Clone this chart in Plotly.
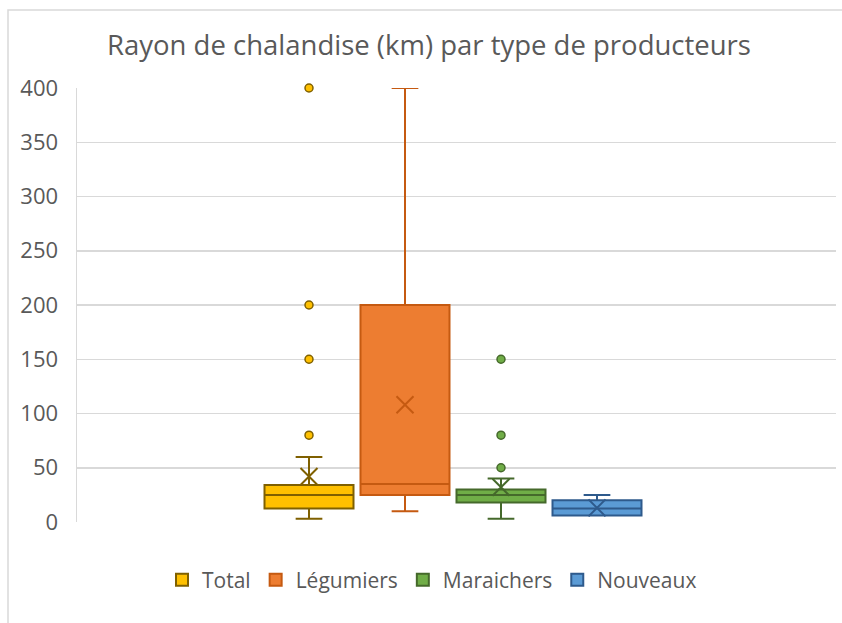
import plotly.graph_objects as go

# ---- data ----
series = ["Total", "Légumiers", "Maraichers", "Nouveaux"]
lower_fence = [3, 10, 3, 6]
q1_vals = [12.5, 25, 18, 6]
median_vals = [25, 35, 25, 12.5]
q3_vals = [34, 200, 30, 20]
upper_fence = [60, 400, 40, 25]
mean_vals = [42, 108, 32, 13]
outliers = [[80, 150, 200, 400], [], [50, 80, 150], []]

y_ticks = [0, 50, 100, 150, 200, 250, 300, 350, 400]

# ---- styles ----
fill_colors = ["#FFC000", "#ED7D31", "#70AD47", "#5B9BD5"]
line_colors = ["#7F6000", "#C55A11", "#45692B", "#2E5A8C"]

W, H = 842, 623
L, R, T, B = 77, 6, 88, 101
pw = W - L - R
ph = H - T - B

fig = go.Figure()

for i, name in enumerate(series):
    fig.add_trace(go.Box(
        name=name,
        x=[name],
        q1=[q1_vals[i]], median=[median_vals[i]], q3=[q3_vals[i]],
        lowerfence=[lower_fence[i]], upperfence=[upper_fence[i]],
        fillcolor=fill_colors[i],
        line=dict(color=line_colors[i], width=2),
        width=0.927,
        whiskerwidth=0.3,
        boxpoints=False,
        hoverinfo="skip",
    ))

for i, name in enumerate(series):
    # mean marker (X)
    fig.add_trace(go.Scatter(
        x=[name], y=[mean_vals[i]], mode="markers",
        marker=dict(symbol="x-thin", size=17,
                    line=dict(color=line_colors[i], width=2)),
        showlegend=False, hoverinfo="skip", cliponaxis=False,
    ))
    if outliers[i]:
        fig.add_trace(go.Scatter(
            x=[name] * len(outliers[i]), y=outliers[i], mode="markers",
            marker=dict(symbol="circle", size=8, color=fill_colors[i],
                        line=dict(color=line_colors[i], width=1.5)),
            showlegend=False, hoverinfo="skip", cliponaxis=False,
        ))

# category positions: first box centre at x=309px, spacing 96px
span = pw / 96.0
left = -(309 - L) / 96.0

def px_x(p):
    return (p - L) / pw

def px_y(p):
    return 1 - (p - T) / ph

fig.update_layout(
    width=W, height=H,
    margin=dict(l=L, r=R, t=T, b=B, autoexpand=False),
    paper_bgcolor="white", plot_bgcolor="white",
    boxmode="overlay",
    title=dict(text="Rayon de chalandise (km) par type de producteurs",
               x=px_x(429), xanchor="center", xref="paper",
               y=1 - 45 / H, yanchor="middle",
               font=dict(family="Open Sans", size=27.5, color="#595959")),
    xaxis=dict(type="category", categoryorder="array", categoryarray=series,
               range=[left, left + span], showticklabels=False,
               showgrid=False, zeroline=False, showline=False, ticks=""),
    yaxis=dict(range=[0, 400], tickvals=y_ticks, showgrid=True,
               gridcolor="#D9D9D9", gridwidth=1.5, zeroline=False,
               showline=True, linecolor="#D9D9D9", linewidth=1.5,
               ticks="", ticklabelstandoff=13,
               tickfont=dict(family="Open Sans", size=22, color="#595959")),
    legend=dict(orientation="h", x=px_x(432), xanchor="center",
                y=px_y(580), yanchor="middle", xref="paper", yref="paper",
                font=dict(family="Open Sans", size=21, color="#595959"),
                itemwidth=30, tracegroupgap=0),
    shapes=[dict(type="rect", xref="paper", yref="paper",
                 x0=px_x(8), x1=px_x(900), y0=px_y(10), y1=px_y(700),
                 line=dict(color="#D9D9D9", width=1.5), layer="below")],
)

fig.write_html("out.html",
               config={"displayModeBar": False, "staticPlot": True},
               post_script="document.body.style.margin='0';"
                           "document.body.style.overflow='hidden';")
